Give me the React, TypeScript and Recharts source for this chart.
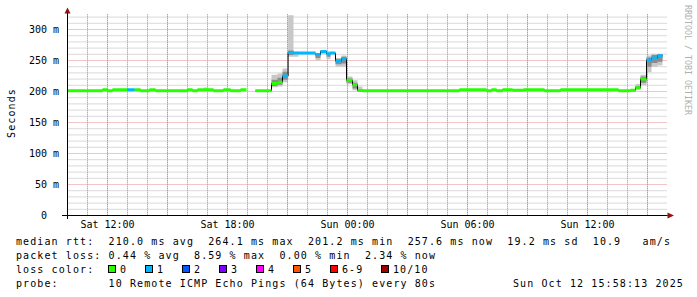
import React from 'react';
import { ComposedChart, Line, Area, XAxis, YAxis, CartesianGrid } from 'recharts';

// time in hours since Sat 00:00
const segStart = [10.00, 11.75, 12.00, 12.25, 13.00, 13.35, 13.65, 14.10, 14.40, 16.00,
  16.25, 16.50, 17.30, 17.80, 18.15, 18.65, 18.95, 19.40, 20.20, 20.50,
  20.75, 21.03, 21.30, 22.40, 22.65, 22.95, 23.15, 23.40, 23.70, 23.95,
  24.25, 24.50, 24.75, 29.60, 30.95, 31.20, 31.45, 31.75, 32.25, 32.80,
  33.85, 34.65, 37.55, 38.15, 38.40, 38.65, 38.95, 39.20, 39.50];
const dataEnd = 39.75;
// median rtt in ms
const segMedian: (number | null)[] = [201.3, 202.8, 201.3, 202.8, 202.8, 202.8, 201.3, 202.8, 201.3, 202.8,
  201.3, 202.8, 201.3, 202.8, 201.3, 202.8, null, 201.3, 213.0, 215.0,
  225.0, 262.8, 262.0, 259.5, 264.5, 261.0, 262.0, 249.0, 253.0, 218.0,
  211.0, 201.5, 201.3, 202.8, 201.3, 202.8, 201.2, 202.8, 202.0, 202.8,
  201.3, 202.8, 201.3, 202.0, 206.0, 220.0, 251.0, 254.0, 257.6];
// lost pings per segment
const segLoss = [0, 0, 0, 0, 1, 0, 0, 0, 0, 0,
  0, 0, 0, 0, 0, 0, 0, 0, 0, 0,
  1, 1, 1, 1, 1, 1, 1, 1, 1, 0,
  0, 0, 0, 0, 0, 0, 0, 0, 0, 0,
  0, 0, 0, 0, 0, 0, 1, 1, 1];

// smoke (spread of the individual pings)
const smokeFrom = [16.80, 20.20, 20.50, 20.75, 21.03, 21.30, 22.40, 22.65, 22.95, 23.40, 23.70, 23.95, 24.25, 24.50, 38.40, 38.65, 38.95, 39.20, 39.50];
const smokeTo = [17.05, 20.50, 20.75, 21.03, 21.30, 21.55, 22.65, 22.95, 23.15, 23.70, 23.95, 24.25, 24.50, 24.75, 38.65, 38.95, 39.20, 39.50, 39.75];
const smokeOuterLo = [201.5, 207, 208, 215, 256, 256, 250, 260, 252, 240, 240, 212, 202, 201, 203, 210, 231, 240, 242];
const smokeOuterHi = [206.5, 227, 229, 237, 323, 264, 262, 267, 265, 254, 258, 224, 218, 208, 212, 227, 258, 261, 261];
const smokeCoreLo: (number | null)[] = [null, 209, 211, 219, 259, null, 254, null, 256, 244, 245, 214, 205, null, 204, 214, 240, 246, 248];
const smokeCoreHi: (number | null)[] = [null, 219, 222, 232, 266, null, 260, null, 262, 252, 256, 221, 214, null, 209, 224, 255, 259, 260];

const yDomain = [0, 325];
const xDomain = [10, 40];
const xLabelTicks = [12, 18, 24, 30, 36];
const xLabelText = ['Sat 12:00', 'Sat 18:00', 'Sun 00:00', 'Sun 06:00', 'Sun 12:00'];
const xMinorTicks = [11, 13, 14, 16, 17, 19, 20, 22, 23, 25, 26, 28, 29, 31, 32, 34, 35, 37, 38];
const xMajorTicks = [12, 15, 18, 21, 24, 27, 30, 33, 36, 39];
const yLabelTicks = [0, 50, 100, 150, 200, 250, 300];
const yLabelText = ['0  ', '50 m', '100 m', '150 m', '200 m', '250 m', '300 m'];
const yMinorTicks = [10, 20, 30, 40, 60, 70, 80, 90, 110, 120, 130, 140, 160, 170, 180, 190, 210, 220, 230, 240, 260, 270, 280, 290, 310, 320];
const yMajorTicks = [50, 100, 150, 200, 250, 300];

const lossLabels = ['0', '1', '2', '3', '4', '5', '6-9', '10/10'];
const lossColors = ['#26ff00', '#00b8ff', '#0059ff', '#7e00ff', '#ff00ff', '#ff5500', '#ff0000', '#a10000'];

const statsLine = 'median rtt:  210.0 ms avg  264.1 ms max  201.2 ms min  257.6 ms now  19.2 ms sd  10.9   am/s';
const lossLine = 'packet loss: 0.44 % avg  8.59 % max  0.00 % min  2.34 % now';
const probeLine = 'probe:       10 Remote ICMP Echo Pings (64 Bytes) every 80s';
const stampText = 'Sun Oct 12 15:58:13 2025';

const GRID_MINOR = '#b4b4b4';
const GRID_MAJOR = '#e38c8c';

const nb = (s: string) => s.replace(/ /g, '\u00A0');

const segEnd = (i: number) => (i + 1 < segStart.length ? segStart[i + 1] : dataEnd);

const stepRows = segStart.map((t, i) => ({ t, v: segMedian[i] }));
stepRows.push({ t: dataEnd, v: segMedian[segMedian.length - 1] });

function colorRows(loss: number) {
  const rows: any[] = [];
  segStart.forEach((t, i) => {
    const v = segMedian[i];
    if (v == null || segLoss[i] !== loss) return;
    rows.push({ t, v }, { t: segEnd(i), v }, { t: segEnd(i), v: null });
  });
  return rows;
}

function bandRows(lo: (number | null)[], hi: (number | null)[]) {
  const rows: any[] = [];
  smokeFrom.forEach((t, i) => {
    const a = lo[i];
    const b = hi[i];
    if (a == null || b == null) return;
    rows.push({ t, r: [a, b] }, { t: smokeTo[i], r: [a, b] }, { t: smokeTo[i], r: null });
  });
  return rows;
}

// vertical grid lines drawn as line series spanning the value axis
function vGridRows(hours: number[]) {
  const rows: any[] = [];
  hours.forEach((t) => {
    rows.push({ t, g: yDomain[0] }, { t, g: yDomain[1] }, { t, g: null });
  });
  return rows;
}

const greenRows = colorRows(0);
const blueRows = colorRows(1);
const outerRows = bandRows(smokeOuterLo, smokeOuterHi);
const coreRows = bandRows(smokeCoreLo, smokeCoreHi);
const vMinorRows = vGridRows(xMinorTicks);
const vMajorRows = vGridRows(xMajorTicks);

const FONT = 'DejaVu Sans Mono';

const applyScale = (axis: any, values: number[]) => {
  const s = axis && axis.scale;
  if (!s) return [];
  return values.map((v) => (typeof s === 'function' ? s(v) : s.map(v)));
};

const XTick = (props: any) => {
  const { x, y, payload } = props;
  const idx = xLabelTicks.indexOf(payload.value);
  return (
    <text x={x} y={y + 12.2} textAnchor="middle" fontFamily={FONT} fontSize={10} fill="#000">
      {xLabelText[idx]}
    </text>
  );
};

const YTick = (props: any) => {
  const { x, y, payload } = props;
  const idx = yLabelTicks.indexOf(payload.value);
  return (
    <text x={x - 8.5} y={y + 3.5} textAnchor="end" fontFamily={FONT} fontSize={10} fill="#000">
      {nb(yLabelText[idx])}
    </text>
  );
};

const legendBoxX = [108.5, 145.5, 182.5, 219.5, 256.5, 293.5, 330.5, 381.5];

export default function App() {
  return (
    <div style={{ position: 'absolute', left: 0, top: 0, width: 697, height: 297, background: '#fff' }}>
      <ComposedChart width={697} height={297} margin={{ top: 14, right: 29.5, bottom: 51.5, left: 0.5 }}>
        <XAxis dataKey="t" type="number" domain={xDomain} ticks={xLabelTicks} interval={0}
          tick={<XTick />} tickLine={false} tickSize={0} tickMargin={0} height={30}
          axisLine={{ stroke: '#000' }} allowDataOverflow />
        <YAxis type="number" domain={yDomain} ticks={yLabelTicks} interval={0} width={67}
          tick={<YTick />} tickLine={false} tickSize={0} tickMargin={0}
          axisLine={{ stroke: '#000' }} allowDataOverflow />
        <CartesianGrid stroke={GRID_MINOR} strokeDasharray="1 1"
          verticalCoordinatesGenerator={({ xAxis }: any) => applyScale(xAxis, xMinorTicks)}
          horizontalCoordinatesGenerator={({ yAxis }: any) => applyScale(yAxis, yMinorTicks)} />
        <CartesianGrid stroke={GRID_MAJOR} strokeDasharray="1 1"
          verticalCoordinatesGenerator={({ xAxis }: any) => applyScale(xAxis, xMajorTicks)}
          horizontalCoordinatesGenerator={({ yAxis }: any) => applyScale(yAxis, yMajorTicks)} />
        <Line data={vMinorRows} dataKey="g" type="linear" stroke={GRID_MINOR} strokeWidth={1}
          strokeDasharray="1 1" dot={false} activeDot={false} isAnimationActive={false} />
        <Line data={vMajorRows} dataKey="g" type="linear" stroke={GRID_MAJOR} strokeWidth={1}
          strokeDasharray="1 1" dot={false} activeDot={false} isAnimationActive={false} />
        <Area data={outerRows} dataKey="r" type="linear" stroke="none"
          fill="#c8c8c8" fillOpacity={1} isAnimationActive={false} dot={false} activeDot={false} />
        <Area data={coreRows} dataKey="r" type="linear" stroke="none"
          fill="#8c8c8c" fillOpacity={1} isAnimationActive={false} dot={false} activeDot={false} />
        <Line data={stepRows} dataKey="v" type="stepAfter" stroke="#000"
          strokeWidth={1} dot={false} activeDot={false} isAnimationActive={false} />
        <Line data={greenRows} dataKey="v" type="linear" stroke={lossColors[0]}
          strokeWidth={3} strokeLinecap="butt" dot={false} activeDot={false} isAnimationActive={false} />
        <Line data={blueRows} dataKey="v" type="linear" stroke={lossColors[1]}
          strokeWidth={3} strokeLinecap="butt" dot={false} activeDot={false} isAnimationActive={false} />
      </ComposedChart>
      <svg width={697} height={297} style={{ position: 'absolute', left: 0, top: 0, pointerEvents: 'none' }}>
        <line x1={62} y1={215.5} x2={67.5} y2={215.5} stroke="#000" />
        <line x1={67.5} y1={215.5} x2={67.5} y2={219} stroke="#000" />
        <line x1={67.5} y1={14} x2={67.5} y2={10} stroke="#000" />
        <line x1={667.5} y1={215.5} x2={670} y2={215.5} stroke="#000" />
        <polygon points="64.5,13.5 70.5,13.5 67.5,7.5" fill="#8e1414" />
        <polygon points="667.5,212.5 667.5,218.5 674,215.5" fill="#8e1414" />
        <text transform="translate(15,113) rotate(-90)" textAnchor="middle" fontFamily={FONT} fontSize={10}
          letterSpacing={1.1} fill="#000">Seconds</text>
        <text transform="translate(684.5,5) rotate(90)" fontFamily={FONT} fontSize={8.3} fill="#b0b0b0">
          {nb('RRDTOOL / TOBI OETIKER')}
        </text>
        <g fontFamily={FONT} fontSize={10} letterSpacing={1.1} fill="#000">
          <text x={16} y={244.5}>{nb(statsLine)}</text>
          <text x={16} y={258.5}>{nb(lossLine)}</text>
          <text x={16} y={272.5}>{nb('loss color:')}</text>
          {lossLabels.map((lab, i) => (
            <g key={lab}>
              <rect x={legendBoxX[i]} y={265.5} width={7} height={7} fill={lossColors[i]} stroke="#000" strokeWidth={1} />
              <text x={legendBoxX[i] + 11.5} y={272.5}>{lab}</text>
            </g>
          ))}
          <text x={16} y={286.8}>{nb(probeLine)}</text>
          <text x={513} y={286.8}>{nb(stampText)}</text>
        </g>
      </svg>
    </div>
  );
}
